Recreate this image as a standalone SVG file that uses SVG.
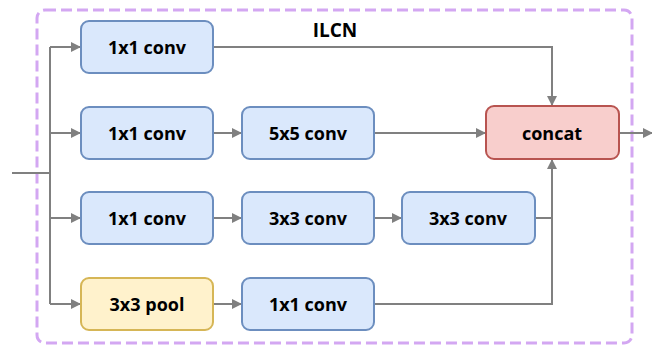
<svg xmlns="http://www.w3.org/2000/svg" width="652" height="347" viewBox="0 0 652 347">
<style>
.b{fill:#dae8fc;stroke:#6c8ebf;stroke-width:2}
.y{fill:#fff2cc;stroke:#d6b656;stroke-width:2}
.r{fill:#f8cecc;stroke:#b85450;stroke-width:2}
.t{font-family:"Open Sans","Liberation Sans",sans-serif;font-weight:bold;font-size:18px;fill:#000;text-anchor:middle;dominant-baseline:central}
.c{fill:none;stroke:#808080;stroke-width:2}
</style>
<defs>
<marker id="a" markerWidth="10" markerHeight="10" refX="9" refY="5" orient="auto" markerUnits="userSpaceOnUse">
<path d="M0,0 L10,5 L0,10 Z" fill="#808080"/>
</marker>
</defs>
<rect x="37" y="10" width="595" height="333" rx="8" fill="none" stroke="#d3a7f2" stroke-width="3" stroke-dasharray="11,5"/>
<text x="335" y="30" class="t" style="font-size:19px">ILCN</text>
<g id="connectors">
<path class="c" d="M12,173 H50"/>
<path class="c" d="M50,47 V304"/>
<path class="c" d="M50,47 H80" marker-end="url(#a)"/>
<path class="c" d="M50,133 H80" marker-end="url(#a)"/>
<path class="c" d="M50,218 H80" marker-end="url(#a)"/>
<path class="c" d="M50,304 H80" marker-end="url(#a)"/>
<path class="c" d="M213,133 H241" marker-end="url(#a)"/>
<path class="c" d="M213,218 H241" marker-end="url(#a)"/>
<path class="c" d="M213,304 H241" marker-end="url(#a)"/>
<path class="c" d="M374,218 H401" marker-end="url(#a)"/>
<path class="c" d="M374,133 H485" marker-end="url(#a)"/>
<path class="c" d="M213,47 H552 V105" marker-end="url(#a)"/>
<path class="c" d="M535,218 H552"/>
<path class="c" d="M374,304 H552 V160" marker-end="url(#a)"/>
<path class="c" d="M619,133 H652" marker-end="url(#a)"/>
</g>
<g id="n1"><rect class="b" x="81" y="21" width="132" height="52" rx="8"/><text class="t" x="147" y="47">1x1 conv</text></g>
<g id="n2"><rect class="b" x="81" y="107" width="132" height="52" rx="8"/><text class="t" x="147" y="133">1x1 conv</text></g>
<g id="n3"><rect class="b" x="242" y="107" width="132" height="52" rx="8"/><text class="t" x="308" y="133">5x5 conv</text></g>
<g id="n4"><rect class="b" x="81" y="192" width="132" height="52" rx="8"/><text class="t" x="147" y="218">1x1 conv</text></g>
<g id="n5"><rect class="b" x="242" y="192" width="132" height="52" rx="8"/><text class="t" x="308" y="218">3x3 conv</text></g>
<g id="n6"><rect class="b" x="402" y="192" width="133" height="52" rx="8"/><text class="t" x="468" y="218">3x3 conv</text></g>
<g id="n7"><rect class="y" x="81" y="278" width="132" height="52" rx="8"/><text class="t" x="147" y="304">3x3 pool</text></g>
<g id="n8"><rect class="b" x="242" y="278" width="132" height="52" rx="8"/><text class="t" x="308" y="304">1x1 conv</text></g>
<g id="n9"><rect class="r" x="486" y="106" width="133" height="53" rx="8"/><text class="t" x="552" y="133">concat</text></g>
</svg>
